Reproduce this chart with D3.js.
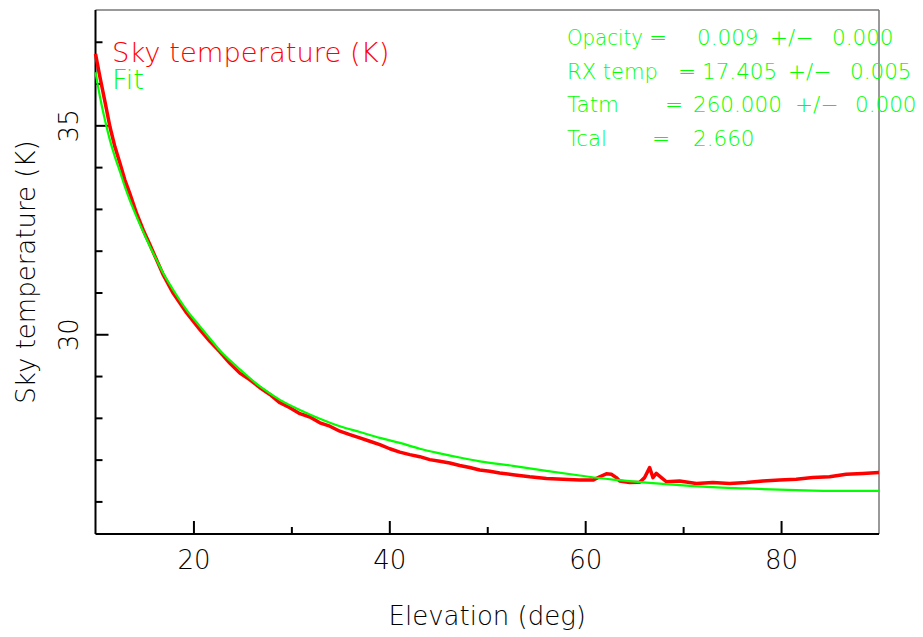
<!DOCTYPE html>
<html>
<head>
<meta charset="utf-8">
<script src="https://cdn.jsdelivr.net/npm/d3@7"></script>
<style>
  body { margin: 0; background: #fff; }
  text { font-family: "DejaVu Sans", sans-serif; font-weight: 200; }
</style>
</head>
<body>
<svg id="chart" width="923" height="637"></svg>
<script>
// Measured sky temperature (K) against elevation (deg)
const skyElev = [10.0, 10.46, 10.97, 11.48, 11.99, 12.5, 13.0, 13.5, 14.2, 14.88, 15.56, 16.24, 16.92, 17.94, 19.31, 20.66, 21.68, 22.7, 23.7, 24.74, 25.77, 26.79, 27.81, 28.83, 29.85, 30.87, 31.89, 32.91, 33.93, 34.95, 35.97, 36.99, 38.01, 39.03, 40.05, 41.07, 42.09, 43.11, 44.13, 45.15, 46.17, 47.19, 48.21, 49.23, 50.26, 51.27, 52.63, 54.34, 56.04, 57.73, 59.44, 60.8, 61.48, 62.16, 62.67, 63.18, 63.52, 64.54, 65.56, 66.07, 66.58, 66.92, 67.26, 67.78, 68.29, 69.64, 71.35, 73.04, 74.74, 76.45, 78.14, 79.85, 81.55, 83.24, 84.95, 86.65, 88.34, 90.0];
const skyTemp = [36.71, 36.15, 35.56, 34.96, 34.48, 34.09, 33.69, 33.37, 32.89, 32.49, 32.14, 31.78, 31.42, 30.98, 30.51, 30.11, 29.83, 29.58, 29.31, 29.07, 28.91, 28.72, 28.56, 28.36, 28.24, 28.10, 28.02, 27.88, 27.80, 27.68, 27.60, 27.52, 27.44, 27.36, 27.26, 27.18, 27.12, 27.07, 27.00, 26.96, 26.92, 26.86, 26.81, 26.75, 26.72, 26.68, 26.64, 26.59, 26.55, 26.53, 26.51, 26.51, 26.59, 26.66, 26.65, 26.57, 26.49, 26.45, 26.46, 26.57, 26.81, 26.57, 26.67, 26.57, 26.47, 26.49, 26.43, 26.45, 26.43, 26.45, 26.49, 26.51, 26.53, 26.57, 26.59, 26.65, 26.67, 26.69];

// Fitted model
const fitElev = [10.0, 10.46, 10.97, 11.48, 11.99, 12.5, 13.0, 13.5, 14.2, 14.88, 15.56, 16.24, 16.92, 17.94, 19.31, 20.66, 21.68, 22.7, 23.7, 24.74, 26.79, 28.83, 30.87, 32.91, 34.95, 36.99, 39.03, 41.07, 43.11, 45.15, 47.19, 49.23, 52.63, 56.04, 59.44, 62.84, 66.24, 69.64, 73.04, 76.45, 79.85, 83.24, 86.65, 90.0];
const fitTemp = [36.27, 35.68, 35.12, 34.64, 34.24, 33.89, 33.53, 33.21, 32.81, 32.45, 32.10, 31.78, 31.46, 31.06, 30.58, 30.19, 29.90, 29.61, 29.38, 29.16, 28.75, 28.43, 28.19, 27.98, 27.80, 27.66, 27.52, 27.40, 27.26, 27.15, 27.05, 26.96, 26.85, 26.73, 26.62, 26.52, 26.45, 26.39, 26.34, 26.31, 26.28, 26.26, 26.25, 26.25];

// Axes ticks
const xMajor = [20, 40, 60, 80];
const xMinor = [30, 50, 70];
const yMajor = [30, 35];
const yMinor = [26, 27, 28, 29, 31, 32, 33, 34, 36, 37];

// Legend and fit results
const legendLabels = ["Sky temperature (K)", "Fit"];
const paramLabels = ["Opacity", "RX temp", "Tatm", "Tcal"];
const paramValues = ["0.009", "17.405", "260.000", "2.660"];
const paramErrors = ["0.000", "0.005", "0.000", null];

const skyColor = "#ff0000";
const fitColor = "#00ff00";

const svg = d3.select("#chart");
const plotLeft = 95.5, plotRight = 879, plotTop = 10, plotBottom = 534;

const x = d3.scaleLinear().domain([10, 90]).range([plotLeft, plotRight]);
const y = d3.scaleLinear().domain([25.22, 37.76]).range([plotBottom, plotTop]);

// Frame: black left/bottom, grey top/right
svg.append("line").attr("x1", plotLeft).attr("x2", plotRight).attr("y1", plotTop).attr("y2", plotTop)
  .attr("stroke", "#777").attr("stroke-width", 1.5);
svg.append("line").attr("x1", plotRight).attr("x2", plotRight).attr("y1", plotTop).attr("y2", plotBottom)
  .attr("stroke", "#777").attr("stroke-width", 1.5);

// Bottom axis
const gx = svg.append("g").attr("transform", `translate(0,${plotBottom})`)
  .call(d3.axisBottom(x).tickValues(xMajor).tickSize(-13).tickFormat(d3.format("d")));
gx.select(".domain").remove();
gx.selectAll("line").attr("stroke", "#000").attr("stroke-width", 2);
gx.selectAll("text")
  .attr("y", 35).attr("dy", null)
  .attr("fill", "#000").attr("font-size", 26);

const gxMinor = svg.append("g").attr("transform", `translate(0,${plotBottom})`)
  .call(d3.axisBottom(x).tickValues(xMinor).tickSize(-7).tickFormat(""));
gxMinor.select(".domain").remove();
gxMinor.selectAll("line").attr("stroke", "#000").attr("stroke-width", 2);

// Left axis
const gy = svg.append("g").attr("transform", `translate(${plotLeft},0)`)
  .call(d3.axisLeft(y).tickValues(yMajor).tickSize(-13).tickFormat(d3.format("d")));
gy.select(".domain").remove();
gy.selectAll("line").attr("stroke", "#000").attr("stroke-width", 2);
gy.selectAll("text")
  .attr("x", null).attr("dy", null)
  .attr("text-anchor", "middle")
  .attr("transform", `translate(${78 - plotLeft},0) rotate(-90)`)
  .attr("fill", "#000").attr("font-size", 26);

const gyMinor = svg.append("g").attr("transform", `translate(${plotLeft},0)`)
  .call(d3.axisLeft(y).tickValues(yMinor).tickSize(-7).tickFormat(""));
gyMinor.select(".domain").remove();
gyMinor.selectAll("line").attr("stroke", "#000").attr("stroke-width", 2);

svg.append("line").attr("x1", plotLeft).attr("x2", plotRight).attr("y1", plotBottom).attr("y2", plotBottom)
  .attr("stroke", "#000").attr("stroke-width", 2);
svg.append("line").attr("x1", plotLeft).attr("x2", plotLeft).attr("y1", plotTop).attr("y2", plotBottom)
  .attr("stroke", "#000").attr("stroke-width", 2);

// Axis titles
svg.append("text")
  .attr("x", (plotLeft + plotRight) / 2).attr("y", 625)
  .attr("text-anchor", "middle").attr("font-size", 26).attr("fill", "#000")
  .text("Elevation (deg)");

svg.append("text")
  .attr("transform", `translate(35,${(plotTop + plotBottom) / 2}) rotate(-90)`)
  .attr("text-anchor", "middle").attr("font-size", 26).attr("fill", "#000")
  .text("Sky temperature (K)");

// Curves
const skyLine = d3.line().x((d, i) => x(skyElev[i])).y(d => y(d));
const fitLine = d3.line().x((d, i) => x(fitElev[i])).y(d => y(d)).curve(d3.curveMonotoneX);

svg.append("path").datum(skyTemp)
  .attr("d", skyLine)
  .attr("fill", "none").attr("stroke", skyColor).attr("stroke-width", 3.5)
  .attr("stroke-linejoin", "round");

svg.append("path").datum(fitTemp)
  .attr("d", fitLine)
  .attr("fill", "none").attr("stroke", fitColor).attr("stroke-width", 2.2);

// Legend
svg.selectAll(".legend").data(legendLabels).enter().append("text")
  .attr("class", "legend")
  .attr("x", 112).attr("y", (d, i) => 62 + i * 27)
  .attr("font-size", 27.4)
  .attr("fill", (d, i) => (i === 0 ? skyColor : fitColor))
  .text(d => d);

// Fit parameters (column positions and label widths per row)
const paramCols = [
  [649, 697, 770, 832],
  [678, 702, 788, 850],
  [665, 693, 795, 855],
  [652, 693, null, null],
];
const paramLabelWidth = [76, 91, 52, 40];
paramLabels.forEach((label, i) => {
  const t = svg.append("text")
    .attr("y", 45 + i * 33.5)
    .attr("font-size", 21.5)
    .attr("fill", fitColor);
  const cols = paramCols[i];
  t.append("tspan").attr("x", 567)
    .attr("textLength", paramLabelWidth[i]).attr("lengthAdjust", "spacingAndGlyphs")
    .text(label);
  t.append("tspan").attr("x", cols[0]).text("=");
  t.append("tspan").attr("x", cols[1]).text(paramValues[i]);
  if (paramErrors[i] !== null) {
    t.append("tspan").attr("x", cols[2]).text("+/\u2212");
    t.append("tspan").attr("x", cols[3]).text(paramErrors[i]);
  }
});
</script>
</body>
</html>
